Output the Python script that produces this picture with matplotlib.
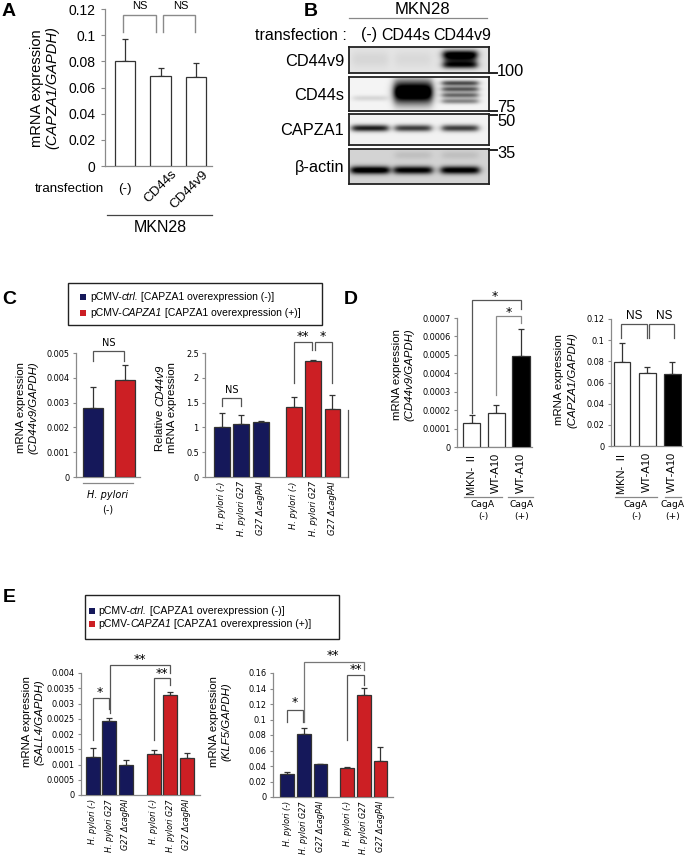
import numpy as np
import matplotlib
matplotlib.use('Agg')
import matplotlib.pyplot as plt
from matplotlib.lines import Line2D
from matplotlib.patches import Rectangle

plt.rcParams['font.family'] = ['Liberation Sans', 'DejaVu Sans']

NAVY = '#15185a'
RED = '#cc1f24'
EDGE = '#333333'
AXC = '#8a8a8a'

# ---- data ----
# A
a_groups = ['(-)', 'CD44s', 'CD44v9']
a_mean = [0.080, 0.069, 0.068]
a_sd = [0.017, 0.006, 0.011]
a_yticks = ['0', '0.02', '0.04', '0.06', '0.08', '0.1', '0.12']

# B (blot lane intensities)
b_lanes = ['(-)', 'CD44s', 'CD44v9']
b_rows = ['CD44v9', 'CD44s', 'CAPZA1', 'β-actin']
b_markers = ['100', '75', '50', '35']
cd44v9_signal = [0.06, 0.05, 0.95]
cd44s_signal = [0.12, 1.0, 0.75]
capza1_signal = [0.85, 0.72, 0.72]
actin_signal = [0.95, 0.88, 0.9]

# C
hp_groups = ['H. pylori (-)', 'H. pylori G27', 'G27 ΔcagPAI']
c1_mean = [0.00277, 0.00392]
c1_sd = [0.00085, 0.00058]
c1_yticks = ['0', '0.001', '0.002', '0.003', '0.004', '0.005']
c2_ctrl = [1.00, 1.07, 1.10]
c2_ctrl_sd = [0.30, 0.18, 0.03]
c2_capza = [1.41, 2.34, 1.37]
c2_capza_sd = [0.21, 0.02, 0.29]
c2_yticks = ['0', '0.5', '1', '1.5', '2', '2.5']

# D
d_labels = ['MKN- Ⅱ', 'WT-A10', 'WT-A10']
d1_mean = [0.000130, 0.000187, 0.000493]
d1_sd = [0.000041, 0.000040, 0.000149]
d1_yticks = ['0', '0.0001', '0.0002', '0.0003', '0.0004', '0.0005', '0.0006', '0.0007']
d2_mean = [0.0796, 0.0688, 0.0679]
d2_sd = [0.018, 0.006, 0.011]
d2_yticks = ['0', '0.02', '0.04', '0.06', '0.08', '0.1', '0.12']

# E
e1_ctrl = [0.00123, 0.00241, 0.00100]
e1_ctrl_sd = [0.00030, 0.00013, 0.00014]
e1_capza = [0.00136, 0.00329, 0.00122]
e1_capza_sd = [0.00010, 0.00010, 0.00015]
e1_yticks = ['0', '0.0005', '0.001', '0.0015', '0.002', '0.0025', '0.003', '0.0035', '0.004']
e2_ctrl = [0.0303, 0.0809, 0.0420]
e2_ctrl_sd = [0.0021, 0.0086, 0.0012]
e2_capza = [0.0376, 0.1319, 0.0463]
e2_capza_sd = [0.0009, 0.0086, 0.0180]
e2_yticks = ['0', '0.02', '0.04', '0.06', '0.08', '0.1', '0.12', '0.14', '0.16']

W, H = 685, 864
fig = plt.figure(figsize=(W / 100, H / 100), dpi=100)
renderer = fig.canvas.get_renderer()


def px_axes(x0, y0, x1, y1):
    return fig.add_axes([x0 / W, 1 - y1 / H, (x1 - x0) / W, (y1 - y0) / H])


def ftext(x, y, s, **kw):
    kw.setdefault('ha', 'center')
    kw.setdefault('va', 'center')
    return fig.text(x / W, 1 - y / H, s, **kw)


def rich(x, y, pieces, vertical=False, **kw):
    # mixed upright/italic text; horizontal starts at x, vertical is centred on y
    pieces = [(s.replace(' ', '\u00a0'), st) for s, st in pieces]
    sizes = []
    for s, st in pieces:
        t = ftext(0, 0, s, style=st, **kw)
        sizes.append(t.get_window_extent(renderer).width)
        t.remove()
    if vertical:
        pos = y + sum(sizes) / 2
        for (s, st), w in zip(pieces, sizes):
            ftext(x, pos, s, style=st, rotation=90, ha='left', va='center',
                  rotation_mode='anchor', **kw)
            pos -= w
    else:
        pos = x
        for (s, st), w in zip(pieces, sizes):
            ftext(pos, y, s, style=st, ha='left', **kw)
            pos += w


def fline(xs, ys, **kw):
    fig.add_artist(Line2D([x / W for x in xs], [1 - y / H for y in ys],
                          transform=fig.transFigure, **kw))


def frect(x0, y0, x1, y1, **kw):
    fig.add_artist(Rectangle((x0 / W, 1 - y1 / H), (x1 - x0) / W, (y1 - y0) / H,
                             transform=fig.transFigure, **kw))


def style(ax, yticks, xlim, fs=5.9, fam='DejaVu Sans'):
    vals = [float(t) for t in yticks]
    ax.set_ylim(0, vals[-1])
    ax.set_xlim(*xlim)
    ax.set_yticks(vals)
    ax.set_yticklabels(yticks, fontsize=fs, family=fam)
    for s in ['top', 'right']:
        ax.spines[s].set_visible(False)
    for s in ['left', 'bottom']:
        ax.spines[s].set_color(AXC)
        ax.spines[s].set_linewidth(0.9)
    ax.tick_params(axis='y', length=2.5, width=0.8, color=AXC, pad=2)
    ax.tick_params(axis='x', length=0)
    ax.set_xticks([])
    ax.patch.set_alpha(0)


def bars(ax, pos, vals, sd, colors, width):
    ax.bar(pos, vals, width, color=colors, edgecolor=EDGE, linewidth=0.9, zorder=3)
    ax.errorbar(pos, vals, yerr=[np.zeros(len(vals)), sd], fmt='none', ecolor=EDGE,
                elinewidth=0.9, capsize=2.5, capthick=0.9, zorder=2)


def bracket(ax, x1, x2, y, y1, y2, color='#555555', lw=0.9):
    ax.plot([x1, x1, x2, x2], [y1, y, y, y2], color=color, lw=lw, clip_on=False,
            solid_joinstyle='miter')


def atext(ax, x, y, s, **kw):
    kw.setdefault('ha', 'center')
    kw.setdefault('va', 'center')
    ax.text(x, y, s, clip_on=False, **kw)


# ---------------- Panel A ----------------
ftext(9, 12, 'A', fontsize=14, fontweight='bold')
ax = px_axes(105, 9, 212, 166)
pos = np.arange(3)
bars(ax, pos, a_mean, a_sd, 'white', 0.57)
style(ax, a_yticks, (-0.563, 2.45), fs=10, fam='Liberation Sans')
ax.tick_params(axis='y', length=3, pad=4)
bracket(ax, -0.06, 0.87, 0.1154, 0.1024, 0.1024, color=AXC, lw=1)
bracket(ax, 1.07, 1.97, 0.1154, 0.1024, 0.1024, color=AXC, lw=1)
atext(ax, 0.41, 0.1222, 'NS', fontsize=8)
atext(ax, 1.58, 0.1222, 'NS', fontsize=8)
ftext(37, 88, 'mRNA expression', rotation=90, fontsize=10.5)
ftext(52, 88, '(CAPZA1/GAPDH)', rotation=90, fontsize=10.5, style='italic')
ftext(104, 189, 'transfection', ha='right', fontsize=9.6)
ftext(125, 189, a_groups[0], fontsize=9.6)
ftext(161, 187, a_groups[1], rotation=45, fontsize=9.6)
ftext(189, 190, a_groups[2], rotation=45, fontsize=9.6)
fline([107, 212], [215, 215], color='#444444', lw=0.9)
ftext(160, 228, 'MKN28', fontsize=11.5)

# ---------------- Panel B ----------------
ftext(311, 12, 'B', fontsize=14, fontweight='bold')
ftext(422, 9, 'MKN28', fontsize=12)
fline([349, 487], [18, 18], color='#888888', lw=0.9)
ftext(347, 35, 'transfection :', ha='right', fontsize=11.5)
for x, s in zip([369, 406, 462], b_lanes):
    ftext(x, 35, s, fontsize=11.5)

lane_x = [21, 64, 111]


def blot_row(y0, y1, bands, bg):
    x0, x1 = 349, 489
    ax = px_axes(x0, y0, x1, y1)
    w, h = x1 - x0, y1 - y0
    yy, xx = np.mgrid[0:h * 3, 0:w * 3] / 3.0
    img = np.full(yy.shape, bg)
    for xc, yc, sy, amp, bw in bands:
        px = 1 / (1 + np.exp((np.abs(xx - xc) - bw / 2) / 2.0))
        img = img + amp * np.exp(-0.5 * ((yy - yc) / sy) ** 2) * px
    ax.imshow(np.clip(img, 0, 1), cmap='gray_r', vmin=0, vmax=1.0, aspect='auto',
              extent=(0, w, h, 0), interpolation='bilinear')
    ax.set_xticks([])
    ax.set_yticks([])
    for s in ax.spines.values():
        s.set_linewidth(1.3)
        s.set_color('#222222')


rows_y = [(47, 73), (77, 111), (114, 145), (149, 184)]
# CD44v9
bands = [(lane_x[i], 12, 6, cd44v9_signal[i], 36) for i in range(2)]
bands += [(lane_x[2], 7, 3.0, cd44v9_signal[2] * 0.9, 34), (lane_x[2], 18, 2.5, cd44v9_signal[2] * 0.75, 34),
          (lane_x[2], 12.5, 3.5, cd44v9_signal[2] * 0.65, 32)]
blot_row(*rows_y[0], bands, 0.1)
# CD44s
bands = [(lane_x[0], 21, 2, cd44s_signal[0], 34),
         (lane_x[1], 15, 8, cd44s_signal[1] * 1.3, 38)]
for yc, f in zip([6, 12, 18, 24], [0.9, 0.85, 0.75, 0.6]):
    bands.append((lane_x[2], yc, 1.9, cd44s_signal[2] * f, 36))
blot_row(*rows_y[1], bands, 0.04)
# CAPZA1
bands = [(lane_x[i], 14, 2.4, capza1_signal[i], 36) for i in range(3)]
blot_row(*rows_y[2], bands, 0.05)
# beta-actin
bands = [(lane_x[i], 21, 2.8, actin_signal[i], 38) for i in range(3)]
bands += [(lane_x[i], 6, 3, 0.08, 36) for i in range(1, 3)]
blot_row(*rows_y[3], bands, 0.17)

for (y0, y1), s in zip(rows_y, b_rows):
    ftext(344, (y0 + y1) / 2 + 1, s, ha='right', fontsize=11.8)
for y_tick, y_lab, s in zip([73, 111, 115, 150], [72, 107, 121, 153], b_markers):
    fline([489, 497], [y_tick, y_tick], color='#222222', lw=1.4)
    ftext(497, y_lab, s, ha='left', fontsize=11.8)

# ---------------- Panel C ----------------
ftext(9, 299, 'C', fontsize=14, fontweight='bold')
frect(68, 283, 322, 325, fill=False, ec='#222222', lw=1)
frect(80, 294, 86, 300, fc=NAVY, ec='none')
frect(80, 310, 86, 316, fc=RED, ec='none')
rich(90, 297, [('pCMV-', 'normal'), ('ctrl.', 'italic'), (' [CAPZA1 overexpression (-)]', 'normal')], fontsize=7.5)
rich(90, 313, [('pCMV-', 'normal'), ('CAPZA1', 'italic'), (' [CAPZA1 overexpression (+)]', 'normal')], fontsize=7.5)

ax = px_axes(76, 353, 140, 477)
bars(ax, np.arange(2), c1_mean, c1_sd, [NAVY, RED], 0.625)
style(ax, c1_yticks, (-0.53, 1.47))
bracket(ax, 0, 0.97, 0.00508, 0.00468, 0.00468)
atext(ax, 0.5, 0.0054, 'NS', fontsize=7, family='DejaVu Sans')
ftext(21, 408, 'mRNA expression', rotation=90, fontsize=8.2)
ftext(33, 408, '(CD44v9/GAPDH)', rotation=90, fontsize=8.2, style='italic')
fline([83, 133], [483, 483], color='#888888', lw=0.9)
ftext(108, 495, 'H. pylori', style='italic', fontsize=7, family='DejaVu Sans')
ftext(108, 510, '(-)', fontsize=7, family='DejaVu Sans')

ax = px_axes(205, 353, 348, 477)
p1 = np.array([0, 1, 2])
p2 = np.array([3.7, 4.7, 5.7])
bars(ax, p1, c2_ctrl, c2_ctrl_sd, NAVY, 0.82)
bars(ax, p2, c2_capza, c2_capza_sd, RED, 0.82)
style(ax, c2_yticks, (-0.87, 6.5))
ax.set_xticks(np.concatenate([p1, p2]))
ax.set_xticklabels(hp_groups * 2, rotation=90, fontsize=6, style='italic', family='DejaVu Sans', va='top')
ax.tick_params(axis='x', length=0, pad=3)
bracket(ax, 0, 1, 1.59, 1.43, 1.43)
atext(ax, 0.5, 1.76, 'NS', fontsize=7, family='DejaVu Sans')
bracket(ax, 3.7, 4.62, 2.72, 1.90, 2.56)
bracket(ax, 4.78, 5.7, 2.72, 2.56, 1.90)
atext(ax, 4.2, 2.84, '**', fontsize=9, family='DejaVu Sans')
atext(ax, 5.2, 2.84, '*', fontsize=9, family='DejaVu Sans')
rich(160, 408, [('Relative ', 'normal'), ('CD44v9', 'italic')], vertical=True, fontsize=8.2)
ftext(172, 408, 'mRNA expression', rotation=90, fontsize=8.2)
fline([348, 348], [410, 477], color='#555555', lw=0.9)

# ---------------- Panel D ----------------
ftext(351, 299, 'D', fontsize=14, fontweight='bold')
ax = px_axes(457, 318, 532, 447)
bars(ax, np.arange(3), d1_mean, d1_sd, ['white', 'white', 'black'], 0.7)
style(ax, d1_yticks, (-0.59, 2.44))
ax.set_xticks(np.arange(3))
ax.set_xticklabels(d_labels, rotation=90, fontsize=8, family=['Liberation Sans', 'Noto Sans CJK JP'], va='top')
ax.tick_params(axis='x', length=0, pad=4)
bracket(ax, 0, 2, 0.000798, 0.000185, 0.000749)
bracket(ax, 1, 2, 0.000711, 0.000282, 0.000673, color='#8a8a8a')
atext(ax, 0.95, 0.000815, '*', fontsize=9, family='DejaVu Sans')
atext(ax, 1.5, 0.000728, '*', fontsize=9, family='DejaVu Sans')
ftext(397, 375, 'mRNA expression', rotation=90, fontsize=8.2)
ftext(409, 375, '(CD44v9/GAPDH)', rotation=90, fontsize=8.2, style='italic')
fline([464, 502], [497, 497], color='#888888', lw=0.9)
fline([508, 533], [497, 497], color='#888888', lw=0.9)
for x, s in [(483, '(-)'), (522, '(+)')]:
    ftext(x, 505, 'CagA', fontsize=6.6, family='DejaVu Sans')
    ftext(x, 517, s, fontsize=6.6, family='DejaVu Sans')

ax = px_axes(611, 319, 682, 446)
bars(ax, np.arange(3), d2_mean, d2_sd, ['white', 'white', 'black'], 0.66)
style(ax, d2_yticks, (-0.44, 2.38))
ax.set_xticks(np.arange(3))
ax.set_xticklabels(d_labels, rotation=90, fontsize=8, family=['Liberation Sans', 'Noto Sans CJK JP'], va='top')
ax.tick_params(axis='x', length=0, pad=4)
bracket(ax, -0.04, 0.98, 0.1153, 0.102, 0.102)
bracket(ax, 1.06, 2.08, 0.1153, 0.102, 0.102)
atext(ax, 0.5, 0.1225, 'NS', fontsize=8.5)
atext(ax, 1.66, 0.1225, 'NS', fontsize=8.5)
ftext(559, 380, 'mRNA expression', rotation=90, fontsize=8.2)
ftext(572, 380, '(CAPZA1/GAPDH)', rotation=90, fontsize=8.2, style='italic')
fline([615, 657], [497, 497], color='#888888', lw=0.9)
fline([665, 681], [497, 497], color='#888888', lw=0.9)
for x, s in [(636, '(-)'), (673, '(+)')]:
    ftext(x, 505, 'CagA', fontsize=6.6, family='DejaVu Sans')
    ftext(x, 517, s, fontsize=6.6, family='DejaVu Sans')

# ---------------- Panel E ----------------
ftext(9, 598, 'E', fontsize=14, fontweight='bold')
frect(85, 595, 339, 639, fill=False, ec='#222222', lw=1)
frect(89, 608, 95, 614, fc=NAVY, ec='none')
frect(89, 621, 95, 627, fc=RED, ec='none')
rich(98, 611, [('pCMV-', 'normal'), ('ctrl.', 'italic'), (' [CAPZA1 overexpression (-)]', 'normal')], fontsize=7.6)
rich(98, 624, [('pCMV-', 'normal'), ('CAPZA1', 'italic'), (' [CAPZA1 overexpression (+)]', 'normal')], fontsize=7.6)

ax = px_axes(81, 673, 200, 795)
p2 = np.array([3.7, 4.7, 5.7])
bars(ax, p1, e1_ctrl, e1_ctrl_sd, NAVY, 0.85)
bars(ax, p2, e1_capza, e1_capza_sd, RED, 0.85)
style(ax, e1_yticks, (-0.73, 6.52))
ax.set_xticks(np.concatenate([p1, p2]))
ax.set_xticklabels(hp_groups * 2, rotation=90, fontsize=5.8, style='italic', family='DejaVu Sans', va='top')
ax.tick_params(axis='x', length=0, pad=3)
bracket(ax, 0, 0.95, 0.00317, 0.0018, 0.00281)
bracket(ax, 1.05, 4.7, 0.00425, 0.00268, 0.00399)
bracket(ax, 3.7, 4.7, 0.00383, 0.0018, 0.0036)
atext(ax, 2.85, 0.00445, '**', fontsize=9, family='DejaVu Sans')
atext(ax, 4.18, 0.00400, '**', fontsize=9, family='DejaVu Sans')
atext(ax, 0.42, 0.00335, '*', fontsize=9, family='DejaVu Sans')
ftext(27, 722, 'mRNA expression', rotation=90, fontsize=8.2)
ftext(39, 722, '(SALL4/GAPDH)', rotation=90, fontsize=8.2, style='italic')

ax = px_axes(273, 673, 393, 797)
p2 = np.array([3.6, 4.6, 5.6])
bars(ax, p1, e2_ctrl, e2_ctrl_sd, NAVY, 0.82)
bars(ax, p2, e2_capza, e2_capza_sd, RED, 0.82)
style(ax, e2_yticks, (-0.84, 6.35))
ax.set_xticks(np.concatenate([p1, p2]))
ax.set_xticklabels(hp_groups * 2, rotation=90, fontsize=5.8, style='italic', family='DejaVu Sans', va='top')
ax.tick_params(axis='x', length=0, pad=3)
bracket(ax, 0, 0.93, 0.1124, 0.0969, 0.0969)
bracket(ax, 1.02, 4.6, 0.1744, 0.0969, 0.164, color='#777777')
bracket(ax, 3.6, 4.6, 0.158, 0.0735, 0.145)
atext(ax, 2.77, 0.182, '**', fontsize=9, family='DejaVu Sans')
atext(ax, 4.1, 0.165, '**', fontsize=9, family='DejaVu Sans')
atext(ax, 0.48, 0.122, '*', fontsize=9, family='DejaVu Sans')
ftext(214, 722, 'mRNA expression', rotation=90, fontsize=8.2)
ftext(226, 722, '(KLF5/GAPDH)', rotation=90, fontsize=8.2, style='italic')

fig.savefig('out.png', dpi=100)
